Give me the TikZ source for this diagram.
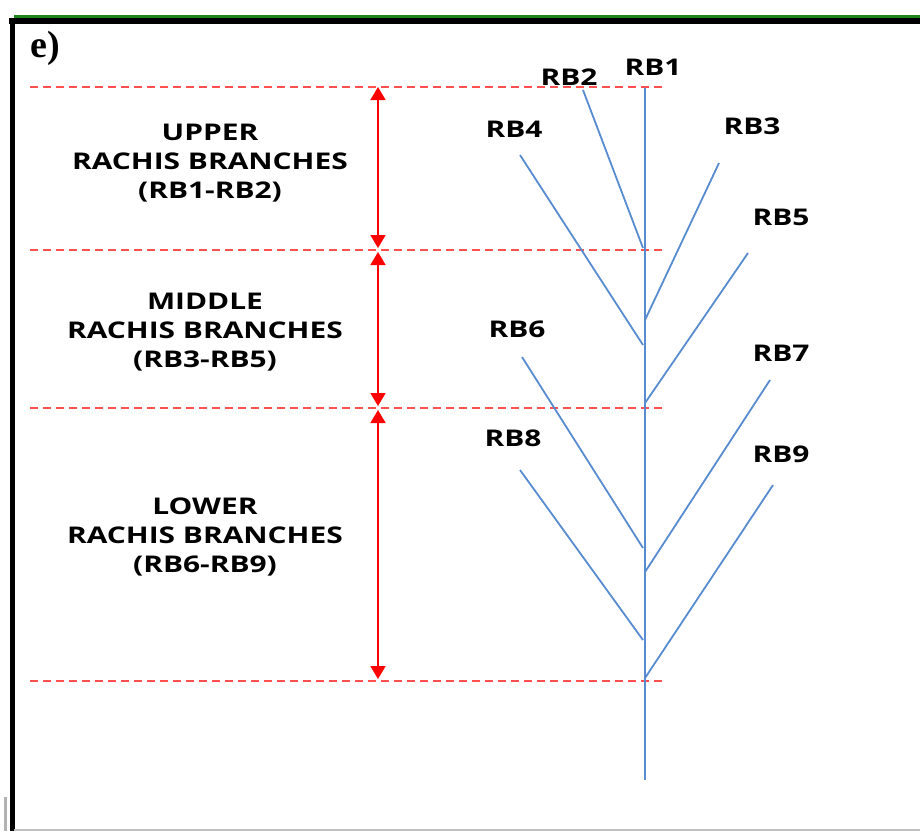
\documentclass[tikz,border=0pt]{standalone}
\usepackage{fontspec}
\setmainfont{Open Sans}
\newfontfamily\serifbf{Liberation Serif}
\usetikzlibrary{arrows.meta}
\definecolor{stemblue}{RGB}{88,140,208}
\definecolor{dashred}{RGB}{255,80,80}
\definecolor{framegreen}{RGB}{30,130,30}
\newcommand{\wide}[1]{\scalebox{1.3}[1]{#1}}
\tikzset{
  lbl/.style={font=\fontsize{23}{29}\selectfont\bfseries, inner sep=0pt, align=center},
  rb/.style={font=\fontsize{23}{24}\selectfont\bfseries, inner sep=0pt},
  branch/.style={draw=stemblue, line width=1.8pt},
  level/.style={draw=dashred, line width=1.3pt, dash pattern=on 8pt off 5pt},
  span/.style={draw=red, line width=1.8pt, {Triangle[length=13pt,width=15pt]}-{Triangle[length=13pt,width=15pt]}}
}
\begin{document}
\begin{tikzpicture}[x=1pt,y=-1pt]
\useasboundingbox (0,0) rectangle (920,831);
% frame
\draw[framegreen, line width=3pt] (14,16.5) -- (920,16.5);
\draw[black, line width=6pt] (9,21) -- (920,21);
\draw[black, line width=5pt] (12,18) -- (12,831);
\draw[gray!60, line width=3pt] (5.5,797) -- (5.5,831);
\draw[gray!50, line width=2pt] (14,830) -- (920,830);
\node[font=\fontsize{38}{38}\selectfont\serifbf\bfseries, inner sep=0pt] (e) at (45,48) {e)};
% level lines
\coordinate (l1a) at (30,87); \coordinate (l1b) at (665,87);
\coordinate (l2a) at (30,250); \coordinate (l2b) at (665,250);
\coordinate (l3a) at (30,408); \coordinate (l3b) at (665,408);
\coordinate (l4a) at (30,681); \coordinate (l4b) at (665,681);
\draw[level] (l1a) -- (l1b);
\draw[level] (l2a) -- (l2b);
\draw[level] (l3a) -- (l3b);
\draw[level] (l4a) -- (l4b);
% spans
\coordinate (a1) at (378,87); \coordinate (a2) at (378,248);
\coordinate (a3) at (378,252); \coordinate (a4) at (378,406);
\coordinate (a5) at (378,410); \coordinate (a6) at (378,679);
\draw[span] (a1) -- (a2);
\draw[span] (a3) -- (a4);
\draw[span] (a5) -- (a6);
% left labels
\node[lbl] (upper) at (210,163) {\wide{UPPER}\\\wide{RACHIS BRANCHES}\\\wide{(RB1-RB2)}};
\node[lbl] (middle) at (205,332) {\wide{MIDDLE}\\\wide{RACHIS BRANCHES}\\\wide{(RB3-RB5)}};
\node[lbl] (lower) at (205,537) {\wide{LOWER}\\\wide{RACHIS BRANCHES}\\\wide{(RB6-RB9)}};
% stem and branches
\coordinate (top) at (645,88); \coordinate (bot) at (645,780);
\draw[branch] (top) -- (bot);
\coordinate (b2o) at (583,90);  \coordinate (b2i) at (643,248);
\coordinate (b3o) at (719,163); \coordinate (b3i) at (645,320);
\coordinate (b4o) at (520,155); \coordinate (b4i) at (643,345);
\coordinate (b5o) at (748,253); \coordinate (b5i) at (645,403);
\coordinate (b6o) at (522,357); \coordinate (b6i) at (643,548);
\coordinate (b7o) at (770,380); \coordinate (b7i) at (645,572);
\coordinate (b8o) at (520,470); \coordinate (b8i) at (643,640);
\coordinate (b9o) at (773,485); \coordinate (b9i) at (645,678);
\draw[branch] (b2o) -- (b2i);
\draw[branch] (b3o) -- (b3i);
\draw[branch] (b4o) -- (b4i);
\draw[branch] (b5o) -- (b5i);
\draw[branch] (b6o) -- (b6i);
\draw[branch] (b7o) -- (b7i);
\draw[branch] (b8o) -- (b8i);
\draw[branch] (b9o) -- (b9i);
% branch labels
\node[rb] (rb1) at (653,67) {\wide{RB1}};
\node[rb] (rb2) at (569,77) {\wide{RB2}};
\node[rb] (rb3) at (752,126) {\wide{RB3}};
\node[rb] (rb4) at (514,129) {\wide{RB4}};
\node[rb] (rb5) at (781,217) {\wide{RB5}};
\node[rb] (rb6) at (517,329) {\wide{RB6}};
\node[rb] (rb7) at (781,353) {\wide{RB7}};
\node[rb] (rb8) at (513,438) {\wide{RB8}};
\node[rb] (rb9) at (781,454) {\wide{RB9}};
\end{tikzpicture}
\end{document}
